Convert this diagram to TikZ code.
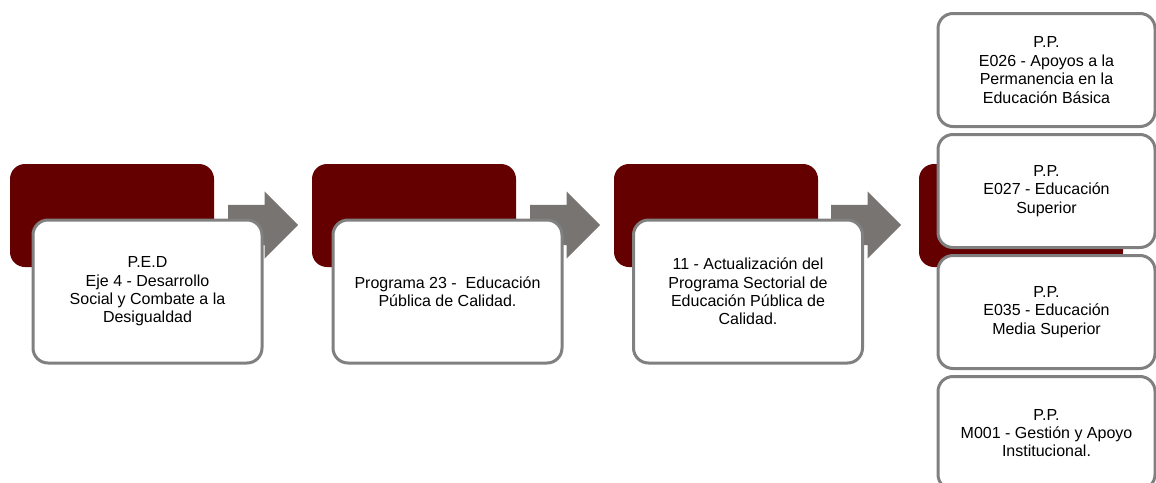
\documentclass[tikz,border=0pt]{standalone}
\usepackage{fontspec}
\setmainfont{Liberation Sans}
\usetikzlibrary{shapes.arrows, positioning}
\definecolor{darkred}{RGB}{100,0,0}
\definecolor{arrowgray}{RGB}{120,116,114}
\definecolor{framegray}{RGB}{128,128,128}
\tikzset{
  node distance=5pt,
  redbox/.style={rectangle, rounded corners=15pt, fill=darkred,
    minimum width=204pt, minimum height=103pt},
  whitebox/.style={rectangle, rounded corners=15pt, draw=framegray,
    line width=3pt, fill=white, minimum width=229pt, minimum height=143pt,
    align=center, font=\fontsize{16}{18.4}\selectfont},
  stackbox/.style={whitebox, minimum width=217pt, minimum height=113pt},
  flowarrow/.style={single arrow, fill=arrowgray, inner xsep=0pt, inner ysep=20pt,
    minimum height=70pt, single arrow head extend=13.5pt, anchor=tail},
}

\begin{document}
\begin{tikzpicture}[x=1pt, y=-1pt]
      \useasboundingbox (0,0) rectangle (1156,482);

      \node[redbox] (r1) at (112,215.5)  {};
      \node[redbox] (r2) at (414,215.5)  {};
      \node[redbox] (r3) at (716,215.5)  {};
      \node[redbox] (r4) at (1021,215.5) {};

      \node[flowarrow] (a1) at (228,225) {};
      \node[flowarrow] (a2) at (530,225) {};
      \node[flowarrow] (a3) at (831,225) {};

      \node[whitebox] (w1) at (147.5,291.5)
            {P.E.D\\Eje 4 - Desarrollo\\Social y Combate a la\\Desigualdad};
      \node[whitebox] (w2) at (447.5,291.5)
            {Programa 23 -\ \ Educación\\Pública de Calidad.};
      \node[whitebox] (w3) at (748,291.5)
            {11 - Actualización del\\Programa Sectorial de\\Educación Pública de\\Calidad.};

      \node[stackbox] (s1) at (1046.5,70)
            {P.P.\\E026 - Apoyos a la\\Permanencia en la\\Educación Básica};
      \node[stackbox,below=of s1] (s2) {P.P.\\E027 - Educación\\Superior};
      \node[stackbox,below=of s2] (s3) {P.P.\\E035 - Educación\\Media Superior};
      \node[stackbox,below=of s3] (s4) {P.P.\\M001 - Gestión y Apoyo\\Institucional.};
\end{tikzpicture}
\end{document}
